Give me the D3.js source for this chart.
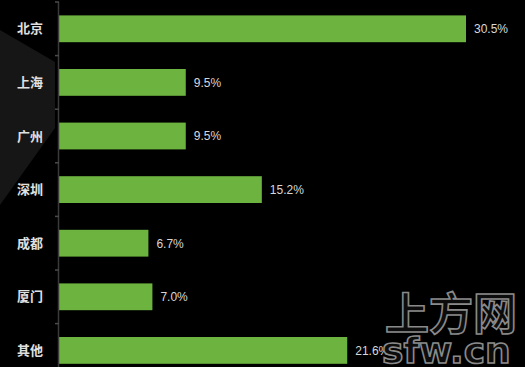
<!DOCTYPE html>
<html>
<head>
<meta charset="utf-8">
<script src="https://cdn.jsdelivr.net/npm/d3@7"></script>
<style>
  html, body { margin: 0; padding: 0; background: #000; }
  svg { display: block; }
</style>
</head>
<body>
<svg id="chart" width="525" height="367"></svg>
<script>
// City shares
const cities = ["北京", "上海", "广州", "深圳", "成都", "厦门", "其他"];
const shares = [30.5, 9.5, 9.5, 15.2, 6.7, 7.0, 21.6];
const shareLabels = ["30.5%", "9.5%", "9.5%", "15.2%", "6.7%", "7.0%", "21.6%"];

const W = 525, H = 367;
const margin = { top: 2, left: 59 };

const svg = d3.select("#chart");

svg.append("rect").attr("width", W).attr("height", H).attr("fill", "#000");

// faint backdrop wedge on the left edge
svg.append("path")
  .attr("d", "M0,30 L55,62 L55,128 L0,205 Z")
  .attr("fill", "#161616");

const x = d3.scaleLinear()
  .domain([0, 30.5])
  .range([margin.left, 466]);

const y = d3.scaleBand()
  .domain(cities)
  .range([margin.top, margin.top + 53.6 * cities.length])
  .paddingInner(0.5)
  .paddingOuter(0.25);

const data = cities.map((c, i) => ({ city: c, v: shares[i], label: shareLabels[i] }));

// bars
svg.append("g").selectAll("rect")
  .data(data)
  .join("rect")
  .attr("x", x(0))
  .attr("y", d => y(d.city))
  .attr("width", d => x(d.v) - x(0))
  .attr("height", y.bandwidth())
  .attr("fill", "#6cb33f");

// category axis with ticks between bands
const axisG = svg.append("g").attr("transform", `translate(${x(0)},0)`);
axisG.append("line")
  .attr("x1", -0.5).attr("x2", -0.5)
  .attr("y1", margin.top).attr("y2", H)
  .attr("stroke", "#3a3a3a").attr("stroke-width", 1.5);
axisG.selectAll("line.tick")
  .data(cities.map((c, i) => margin.top + i * y.step()))
  .join("line")
  .attr("class", "tick")
  .attr("x1", -4).attr("x2", 0)
  .attr("y1", d => d).attr("y2", d => d)
  .attr("stroke", "#4a4a4a").attr("stroke-width", 1.5);

// category labels
svg.append("g").selectAll("text")
  .data(data)
  .join("text")
  .attr("x", 43)
  .attr("y", d => y(d.city) + y.bandwidth() / 2)
  .attr("dy", "0.36em")
  .attr("text-anchor", "end")
  .attr("fill", "#e0e0e0")
  .attr("font-family", "Noto Sans CJK SC, sans-serif")
  .attr("font-size", 13)
  .attr("font-weight", "bold")
  .text(d => d.city);

// value labels
svg.append("g").selectAll("text")
  .data(data)
  .join("text")
  .attr("x", d => x(d.v) + 8)
  .attr("y", d => y(d.city) + y.bandwidth() / 2)
  .attr("dy", "0.36em")
  .attr("fill", "#d8d8d8")
  .attr("font-family", "Liberation Sans Narrow, Liberation Sans, sans-serif")
  .attr("font-size", 12)
  .text(d => d.label);

// site mark in the corner
const mark = svg.append("g")
  .attr("fill", "#0c0c0c")
  .attr("stroke", "#8a8a8a")
  .attr("stroke-width", 1.6)
  .attr("font-weight", "bold");
mark.append("text")
  .attr("x", 385).attr("y", 330)
  .attr("font-size", 44)
  .attr("font-family", "Noto Sans CJK SC, sans-serif")
  .text("上方网");
mark.append("text")
  .attr("x", 382).attr("y", 363)
  .attr("font-size", 36)
  .attr("font-family", "DejaVu Sans, sans-serif")
  .text("sfw.cn");
</script>
</body>
</html>
